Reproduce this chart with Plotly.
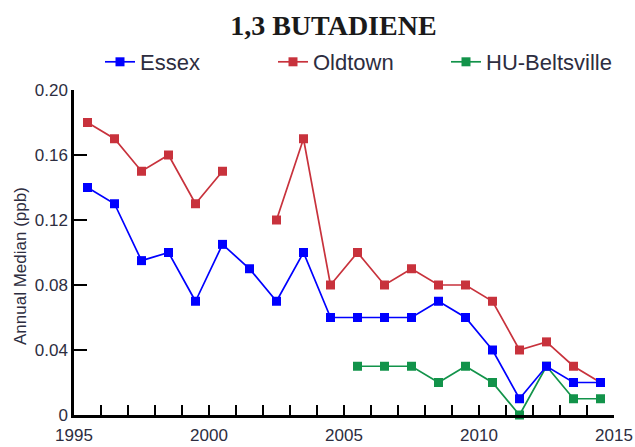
import plotly.graph_objects as go

# midyear positions of the annual medians
years = [1995.5, 1996.5, 1997.5, 1998.5, 1999.5, 2000.5, 2001.5, 2002.5, 2003.5, 2004.5,
         2005.5, 2006.5, 2007.5, 2008.5, 2009.5, 2010.5, 2011.5, 2012.5, 2013.5, 2014.5]

essex = [0.14, 0.13, 0.095, 0.10, 0.07, 0.105, 0.09, 0.07, 0.10, 0.06,
         0.06, 0.06, 0.06, 0.07, 0.06, 0.04, 0.01, 0.03, 0.02, 0.02]
oldtown = [0.18, 0.17, 0.15, 0.16, 0.13, 0.15, None, 0.12, 0.17, 0.08,
           0.10, 0.08, 0.09, 0.08, 0.08, 0.07, 0.04, 0.045, 0.03, 0.02]
beltsville = [None, None, None, None, None, None, None, None, None, None,
              0.03, 0.03, 0.03, 0.02, 0.03, 0.02, 0.0, 0.03, 0.01, 0.01]

y_ticks = [0, 0.04, 0.08, 0.12, 0.16, 0.20]
y_labels = ['0', '0.04', '0.08', '0.12', '0.16', '0.20']
x_ticks = [1995, 2000, 2005, 2010, 2015]

BLUE = '#0000FF'
RED = '#C8323C'
GREEN = '#12934A'
SANS = 'Liberation Sans, Arial, sans-serif'
TXT = '#2d2d40'

fig = go.Figure()
# drawn green -> red -> blue so blue sits on top, legend reversed
for name, vals, col in [('HU-Beltsville', beltsville, GREEN),
                        ('Oldtown', oldtown, RED),
                        ('Essex', essex, BLUE)]:
    fig.add_trace(go.Scatter(x=years, y=vals, name=name, mode='lines+markers',
                             line=dict(color=col, width=1.7),
                             marker=dict(color=col, size=9, symbol='square'),
                             connectgaps=False, cliponaxis=False))

fig.update_layout(
    width=635, height=447,
    paper_bgcolor='white', plot_bgcolor='white',
    margin=dict(l=74, r=21, t=90, b=32, autoexpand=False),
    font=dict(family=SANS, size=16, color=TXT),
    title=dict(text='<b>1,3 BUTADIENE</b>', x=0.525, xanchor='center',
               y=1 - 25 / 447, yref='container', yanchor='middle',
               font=dict(family='Liberation Serif, serif', size=28, color='#1a1a1a')),
    legend=dict(orientation='h', x=(100 - 74) / 540, xanchor='left',
                y=1 + (90 - 62) / 325, yanchor='middle',
                entrywidth=128, traceorder='reversed',
                font=dict(family=SANS, size=22, color=TXT),
                bgcolor='rgba(0,0,0,0)'),
    showlegend=True,
    annotations=[dict(text='Annual Median (ppb)', textangle=-90, showarrow=False,
                      xref='paper', yref='paper', x=(20 - 74) / 540, y=(415 - 266) / 325,
                      xanchor='center', yanchor='middle',
                      font=dict(family=SANS, size=17, color=TXT))],
)
fig.update_xaxes(range=[1995, 2015], tickvals=x_ticks, ticktext=[str(t) for t in x_ticks],
                 showline=True, linecolor='black', linewidth=2.5, showgrid=False, zeroline=False,
                 ticks='inside', ticklen=10, tickcolor='black', tickwidth=2,
                 minor=dict(dtick=1, ticks='inside', ticklen=10, tickcolor='black', tickwidth=2),
                 ticklabelstandoff=3, tickfont=dict(size=17, color=TXT))
fig.update_yaxes(range=[0, 0.20], tickvals=y_ticks, ticktext=y_labels,
                 showline=True, linecolor='black', linewidth=2.5, showgrid=False, zeroline=False,
                 ticks='inside', ticklen=13, tickcolor='black', tickwidth=2,
                 tickfont=dict(size=17, color=TXT))

# drop the browser's default body margin so the figure sits at the window's corner
fig.write_html('out.html', config={'displayModeBar': False},
               post_script="document.body.style.margin='0';")
